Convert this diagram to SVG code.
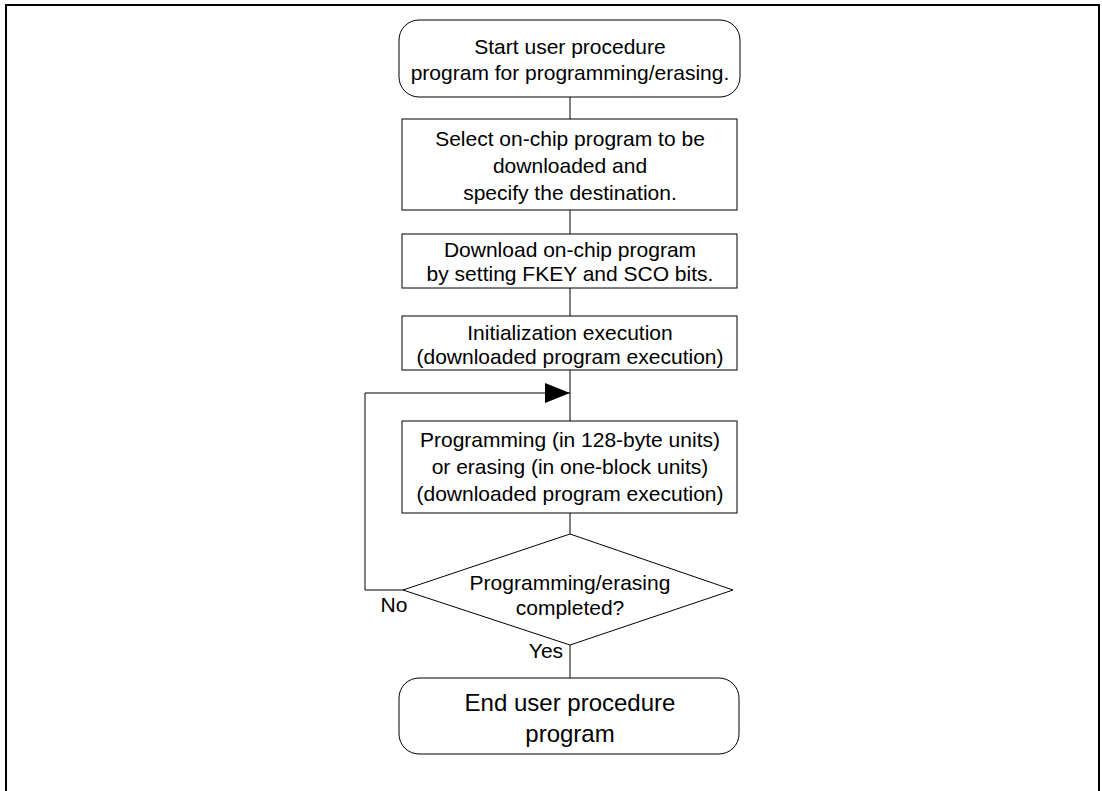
<svg xmlns="http://www.w3.org/2000/svg" width="1102" height="791" viewBox="0 0 1102 791">
<style>
.b{fill:#fff;stroke:#000;stroke-width:1}
.c{fill:none;stroke:#000;stroke-width:1}
text{font-family:"Liberation Sans",Arial,sans-serif;font-size:21px;fill:#000;text-anchor:middle}
.big{font-size:24px}
</style>
<defs>
<marker id="ah" markerWidth="25" markerHeight="20" refX="25" refY="10" orient="auto" markerUnits="userSpaceOnUse">
<path d="M0,0 L25,10 L0,20 Z" fill="#000"/>
</marker>
</defs>
<rect width="1102" height="791" fill="#fff"/>
<path d="M6,791 V5 H1099 V791" fill="none" stroke="#000" stroke-width="2"/>
<g id="connectors">
<line class="c" x1="570" y1="97" x2="570" y2="119"/>
<line class="c" x1="570" y1="210" x2="570" y2="234"/>
<line class="c" x1="570" y1="288" x2="570" y2="316"/>
<line class="c" x1="570" y1="370" x2="570" y2="421"/>
<line class="c" x1="570" y1="513" x2="570" y2="534"/>
<line class="c" x1="570" y1="645" x2="570" y2="678"/>
<polyline class="c" points="403,590 365,590 365,393 570,393" marker-end="url(#ah)"/>
<text x="394" y="612">No</text>
<text x="546" y="658">Yes</text>
</g>
<g id="start">
<rect class="b" x="399" y="20" width="341" height="77" rx="20" ry="20"/>
<text x="570" y="54">Start user procedure</text>
<text x="570" y="80">program for programming/erasing.</text>
</g>
<g id="select">
<rect class="b" x="402" y="119" width="335" height="91"/>
<text x="570" y="146">Select on-chip program to be</text>
<text x="570" y="173">downloaded and</text>
<text x="570" y="200">specify the destination.</text>
</g>
<g id="download">
<rect class="b" x="402" y="234" width="335" height="54"/>
<text x="570" y="257">Download on-chip program</text>
<text x="570" y="281">by setting FKEY and SCO bits.</text>
</g>
<g id="init">
<rect class="b" x="402" y="316" width="335" height="54"/>
<text x="570" y="340">Initialization execution</text>
<text x="570" y="364">(downloaded program execution)</text>
</g>
<g id="program">
<rect class="b" x="402" y="421" width="335" height="92"/>
<text x="570" y="447">Programming (in 128-byte units)</text>
<text x="570" y="474">or erasing (in one-block units)</text>
<text x="570" y="501">(downloaded program execution)</text>
</g>
<g id="decision">
<polygon class="b" points="570,534 733,590 570,645 403,590"/>
<text x="570" y="590">Programming/erasing</text>
<text x="570" y="615">completed?</text>
</g>
<g id="end">
<rect class="b" x="399" y="678" width="340" height="76" rx="20" ry="20"/>
<text class="big" x="570" y="711">End user procedure</text>
<text class="big" x="570" y="742">program</text>
</g>
</svg>
